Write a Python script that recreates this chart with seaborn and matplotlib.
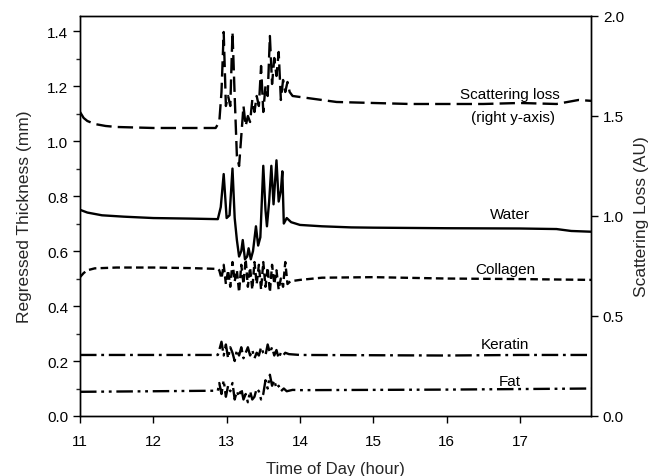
import matplotlib
matplotlib.use("Agg")
import matplotlib.pyplot as plt
import seaborn as sns
import numpy as np

# ---------------- data ----------------
t_scat = [11.0, 11.05, 11.1, 11.2, 11.35, 11.5, 12.0, 12.5, 12.85, 12.9, 12.93, 12.96, 12.99,
          13.02, 13.05, 13.08, 13.11, 13.14, 13.17, 13.2, 13.23, 13.26, 13.29, 13.32, 13.35,
          13.38, 13.41, 13.44, 13.47, 13.5, 13.53, 13.56, 13.59, 13.62, 13.65, 13.68, 13.71,
          13.74, 13.77, 13.8, 13.83, 13.86, 13.9, 14.0, 14.2, 14.5, 15.0, 15.5, 16.0, 16.5,
          17.0, 17.5, 17.8, 18.0]
scattering = [1.52, 1.49, 1.475, 1.46, 1.45, 1.445, 1.44, 1.44, 1.44, 1.47, 1.62, 1.92, 1.55,
              1.60, 1.55, 1.92, 1.60, 1.30, 1.25, 1.40, 1.55, 1.45, 1.50, 1.47, 1.58,
              1.52, 1.60, 1.55, 1.75, 1.52, 1.65, 1.60, 1.90, 1.66, 1.79, 1.70, 1.82,
              1.58, 1.68, 1.62, 1.67, 1.62, 1.60, 1.595, 1.585, 1.57, 1.565, 1.56, 1.56, 1.56,
              1.565, 1.56, 1.58, 1.575]

t_water = [11.0, 11.1, 11.3, 11.6, 12.0, 12.5, 12.88, 12.92, 12.96, 13.0, 13.04, 13.08, 13.11,
           13.14, 13.17, 13.2, 13.22, 13.25, 13.28, 13.3, 13.33, 13.36, 13.4, 13.43, 13.46,
           13.5, 13.53, 13.55, 13.58, 13.61, 13.64, 13.68, 13.71, 13.74, 13.76, 13.78, 13.82,
           13.88, 14.0, 14.3, 14.7, 15.0, 16.0, 17.0, 17.5, 17.7, 18.0]
water = [0.75, 0.74, 0.73, 0.725, 0.72, 0.718, 0.716, 0.76, 0.88, 0.72, 0.73, 0.90, 0.72,
         0.64, 0.58, 0.60, 0.64, 0.57, 0.58, 0.61, 0.57, 0.60, 0.69, 0.62, 0.65,
         0.91, 0.75, 0.69, 0.78, 0.91, 0.77, 0.93, 0.78, 0.82, 0.89, 0.70, 0.72,
         0.705, 0.695, 0.69, 0.686, 0.685, 0.683, 0.682, 0.68, 0.673, 0.67]

t_coll = [11.0, 11.05, 11.1, 11.2, 11.5, 12.0, 12.5, 12.88, 12.9, 12.93, 12.96, 12.99, 13.02,
          13.05, 13.08, 13.11, 13.14, 13.17, 13.2, 13.23, 13.26, 13.29, 13.32, 13.35, 13.38,
          13.41, 13.44, 13.47, 13.5, 13.53, 13.56, 13.59, 13.62, 13.65, 13.68, 13.71, 13.74,
          13.77, 13.8, 13.83, 13.87, 14.0, 14.3, 15.0, 16.0, 17.0, 18.0]
collagen = [0.505, 0.52, 0.53, 0.537, 0.54, 0.54, 0.538, 0.535, 0.53, 0.50, 0.55, 0.48, 0.53,
            0.47, 0.56, 0.49, 0.53, 0.45, 0.55, 0.48, 0.57, 0.47, 0.54, 0.46, 0.56,
            0.48, 0.55, 0.46, 0.56, 0.47, 0.54, 0.45, 0.55, 0.48, 0.53, 0.46, 0.50,
            0.47, 0.56, 0.48, 0.49, 0.495, 0.503, 0.505, 0.50, 0.498, 0.495]

t_ker = [11.0, 12.0, 12.88, 12.9, 12.93, 12.96, 12.99, 13.02, 13.05, 13.08, 13.11, 13.14, 13.17,
         13.2, 13.23, 13.26, 13.29, 13.32, 13.35, 13.38, 13.41, 13.44, 13.47, 13.5, 13.53,
         13.56, 13.59, 13.62, 13.65, 13.68, 13.71, 13.74, 13.77, 13.8, 13.85, 14.0, 15.0,
         16.0, 17.0, 18.0]
keratin = [0.222, 0.222, 0.222, 0.24, 0.27, 0.22, 0.26, 0.21, 0.25, 0.23, 0.20, 0.24, 0.22,
           0.25, 0.21, 0.23, 0.25, 0.22, 0.24, 0.21, 0.23, 0.22, 0.25, 0.23, 0.22,
           0.26, 0.23, 0.25, 0.22, 0.24, 0.21, 0.23, 0.22, 0.23, 0.225, 0.222, 0.221,
           0.22, 0.222, 0.222]

t_fat = [11.0, 12.0, 12.88, 12.9, 12.93, 12.96, 12.99, 13.02, 13.05, 13.08, 13.11, 13.14, 13.17,
         13.2, 13.23, 13.26, 13.29, 13.32, 13.35, 13.38, 13.41, 13.44, 13.47, 13.5, 13.53,
         13.56, 13.59, 13.62, 13.65, 13.68, 13.71, 13.74, 13.78, 13.82, 13.9, 14.0, 15.0,
         16.0, 17.0, 18.0]
fat = [0.088, 0.09, 0.092, 0.12, 0.08, 0.13, 0.07, 0.11, 0.09, 0.12, 0.06, 0.09, 0.07,
       0.10, 0.06, 0.08, 0.05, 0.09, 0.06, 0.07, 0.10, 0.09, 0.06, 0.08, 0.13,
       0.10, 0.15, 0.11, 0.13, 0.10, 0.11, 0.09, 0.10, 0.09, 0.095, 0.094, 0.095,
       0.096, 0.098, 0.10]

x_ticks = [11, 12, 13, 14, 15, 16, 17]
left_ticks = [0.0, 0.2, 0.4, 0.6, 0.8, 1.0, 1.2, 1.4]
right_ticks = [0.0, 0.5, 1.0, 1.5, 2.0]

# ---------------- style ----------------
sns.set_style("ticks")
plt.rcParams["font.family"] = ["Liberation Sans", "DejaVu Sans"]
plt.rcParams["xtick.direction"] = "out"
plt.rcParams["ytick.direction"] = "out"

fig = plt.figure(figsize=(6.52, 4.77), dpi=100)
ax = fig.add_axes([0.1227, 0.1258, 0.7837, 0.8386])
ax2 = ax.twinx()

lw = 1.7
sns.lineplot(x=t_water, y=water, ax=ax, color="black", lw=lw, estimator=None, sort=False,
             linestyle="-")
sns.lineplot(x=t_coll, y=collagen, ax=ax, color="black", lw=lw, estimator=None, sort=False,
             linestyle=(0, (3.2, 1.8)))
sns.lineplot(x=t_ker, y=keratin, ax=ax, color="black", lw=lw, estimator=None, sort=False,
             linestyle=(0, (7, 2, 1.2, 2)))
sns.lineplot(x=t_fat, y=fat, ax=ax, color="black", lw=lw, estimator=None, sort=False,
             linestyle=(0, (7, 2, 1.2, 2, 1.2, 2)))
sns.lineplot(x=t_scat, y=scattering, ax=ax2, color="black", lw=lw, estimator=None, sort=False,
             linestyle=(0, (6.5, 2.6)))

ax.set_xlim(11, 17.97)
ax.set_ylim(0, 1.455)
ax2.set_ylim(0, 2.0)
ax.set_xticks(x_ticks)
ax.set_xticklabels([str(v) for v in x_ticks])
ax.set_yticks(left_ticks)
ax.set_yticklabels([f"{v:.1f}" for v in left_ticks])
ax.set_yticks(np.arange(0.1, 1.45, 0.2), minor=True)
ax2.set_yticks(right_ticks)
ax2.set_yticklabels([f"{v:.1f}" for v in right_ticks])

for a in (ax, ax2):
    for s in a.spines.values():
        s.set_visible(True)
        s.set_linewidth(1.0)
        s.set_color("black")
    a.tick_params(axis="both", which="major", length=5, width=1.0, labelsize=11, colors="black")
    a.tick_params(axis="both", which="minor", length=3, width=1.0)
ax.tick_params(axis="x", pad=8)

ax.set_xlabel("Time of Day (hour)", fontsize=12, labelpad=9)
ax.set_ylabel("Regressed Thickness (mm)", fontsize=12.5, labelpad=11)
ax2.set_ylabel("Scattering Loss (AU)", fontsize=12.5, labelpad=7)

tkw = dict(fontsize=11, ha="center", va="center", color="black")
ax.text(16.86, 1.17, "Scattering loss", **tkw)
ax.text(16.9, 1.087, "(right y-axis)", **tkw)
ax.text(16.86, 0.735, "Water", **tkw)
ax.text(16.8, 0.535, "Collagen", **tkw)
ax.text(16.8, 0.262, "Keratin", **tkw)
ax.text(16.86, 0.127, "Fat", **tkw)

fig.savefig("out.png", dpi=100)
